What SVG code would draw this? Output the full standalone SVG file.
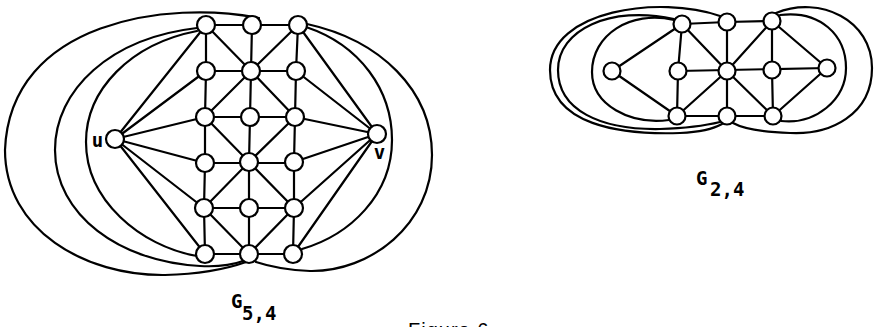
<svg xmlns="http://www.w3.org/2000/svg" width="883" height="327" viewBox="0 0 883 327">
<style>
.e{stroke:#000;stroke-width:2.2;fill:none;stroke-linecap:round}
.n{fill:#fff;stroke:#000;stroke-width:2.2}
.lb{font-family:"DejaVu Sans Mono","Liberation Mono",monospace;font-weight:bold;font-size:19px;fill:#000}
.cap{font-family:"Liberation Sans",Arial,sans-serif;font-size:20px;fill:#000;letter-spacing:1px}
</style>
<rect width="883" height="327" fill="#fff"/>
<g id="connectors">
<path class="e" d="M206,25H298M206,71H296M205,117H295M205,163H294M204,208H294M205,254H293"/>
<path class="e" d="M206,25L206,71L205,117L205,163L204,208L205,254M252,25L251,71L250,117L249,162L249,208L249,254M298,25L296,71L295,117L294,162L294,208L293,254"/>
<path class="e" d="M206,25L251,71L298,25M205,117L251,71L295,117M205,117L249,162L295,117M204,208L249,162L294,208M204,208L249,254L294,208"/>
<path class="e" d="M115,139L206,25M115,139L206,71M115,139L205,117M115,139L205,163M115,139L204,208M115,139L205,254"/>
<path class="e" d="M377,134L298,25M377,134L296,71M377,134L295,117M377,134L294,162M377,134L294,208M377,134L293,254"/>
<path class="e" d="M197,31C130,44 86,90 86,142C86,200 140,246 197,256"/>
<path class="e" d="M197,28C110,38 55,90 55,150C55,215 120,262 200,266C220,267 235,264 243,261"/>
<path class="e" d="M259,18C170,0 10,20 5,150C5,230 85,276 165,275C205,274 232,267 246,262"/>
<path class="e" d="M306,27C360,45 392,90 392,140C392,195 350,235 302,249"/>
<path class="e" d="M307,24C380,40 432,90 432,155C432,225 370,272 310,271C285,270 268,266 256,262"/>
<path class="e" d="M682,24L727,22L772,21M678,71L827,68M677,116L727,116L773,116M612,71L682,24M612,71L677,116"/>
<path class="e" d="M682,24L678,71L677,116M727,22L727,116M772,21L772,70L773,116"/>
<path class="e" d="M682,24L727,71L677,116M772,21L727,71L773,116M827,68L772,21M827,68L773,116"/>
<path class="e" d="M674,20C630,10 592,35 592,72C592,105 630,125 669,120"/>
<path class="e" d="M674,19C610,5 558,30 558,70C558,110 600,130 660,129C690,128 708,125 720,122"/>
<path class="e" d="M720,16C660,-5 550,10 550,70C550,125 620,135 680,133C700,132 715,128 722,124"/>
<path class="e" d="M780,15C820,10 846,35 846,68C846,100 815,125 781,121"/>
<path class="e" d="M776,13C820,-5 872,20 872,68C872,115 830,135 790,133C760,132 742,128 733,123"/>
</g>
<g id="G54">
<g id="u"><circle class="n" cx="115" cy="139" r="9"/><text class="lb" x="97.5" y="147" text-anchor="middle">u</text></g>
<g id="v"><circle class="n" cx="377" cy="134" r="9"/><text class="lb" x="379.5" y="159" text-anchor="middle">v</text></g>
<g id="a1"><circle class="n" cx="206" cy="25" r="9"/></g>
<g id="a2"><circle class="n" cx="206" cy="71" r="9"/></g>
<g id="a3"><circle class="n" cx="205" cy="117" r="9"/></g>
<g id="a4"><circle class="n" cx="205" cy="163" r="9"/></g>
<g id="a5"><circle class="n" cx="204" cy="208" r="9"/></g>
<g id="a6"><circle class="n" cx="205" cy="254" r="9"/></g>
<g id="b1"><circle class="n" cx="252" cy="25" r="9"/></g>
<g id="b2"><circle class="n" cx="251" cy="71" r="9"/></g>
<g id="b3"><circle class="n" cx="250" cy="117" r="9"/></g>
<g id="b4"><circle class="n" cx="249" cy="162" r="9"/></g>
<g id="b5"><circle class="n" cx="249" cy="208" r="9"/></g>
<g id="b6"><circle class="n" cx="249" cy="254" r="9"/></g>
<g id="c1"><circle class="n" cx="298" cy="25" r="9"/></g>
<g id="c2"><circle class="n" cx="296" cy="71" r="9"/></g>
<g id="c3"><circle class="n" cx="295" cy="117" r="9"/></g>
<g id="c4"><circle class="n" cx="294" cy="162" r="9"/></g>
<g id="c5"><circle class="n" cx="294" cy="208" r="9"/></g>
<g id="c6"><circle class="n" cx="293" cy="254" r="9"/></g>
<text class="lb" x="231" y="308">G</text><text class="lb" x="242" y="320">5,4</text>
</g>
<g id="G24">
<g id="L"><circle class="n" cx="612" cy="71" r="8.5"/></g>
<g id="t1"><circle class="n" cx="682" cy="24" r="8.5"/></g>
<g id="t2"><circle class="n" cx="727" cy="22" r="8.5"/></g>
<g id="t3"><circle class="n" cx="772" cy="21" r="8.5"/></g>
<g id="m1"><circle class="n" cx="678" cy="71" r="8.5"/></g>
<g id="m2"><circle class="n" cx="727" cy="71" r="8.5"/></g>
<g id="m3"><circle class="n" cx="772" cy="70" r="8.5"/></g>
<g id="b1r"><circle class="n" cx="677" cy="116" r="8.5"/></g>
<g id="b2r"><circle class="n" cx="727" cy="116" r="8.5"/></g>
<g id="b3r"><circle class="n" cx="773" cy="116" r="8.5"/></g>
<g id="R"><circle class="n" cx="827" cy="68" r="8.5"/></g>
<text class="lb" x="696" y="185">G</text><text class="lb" x="710" y="196">2,4</text>
</g>
<text class="cap" x="408" y="337">Figure 6</text>
</svg>
